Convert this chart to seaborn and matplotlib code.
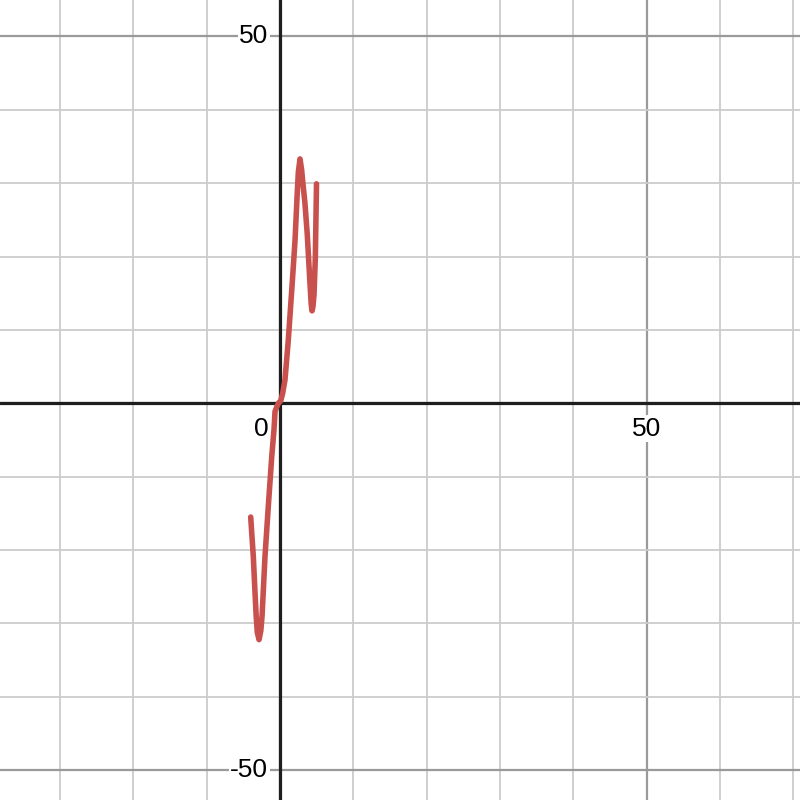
import matplotlib
matplotlib.use("Agg")
from matplotlib import pyplot as plt
from matplotlib.ticker import MultipleLocator
import seaborn as sns
import pandas as pd

# curve points (x increasing)
curve_x = [-4.00, -3.64, -3.40, -3.25, -3.10, -2.86, -2.62, -2.45, -2.30, -2.05,
           -1.60, -1.13, -0.82, -0.68, -0.40, -0.23, 0.10, 0.37, 0.68, 1.13,
           1.60, 2.05, 2.32, 2.50, 2.73, 2.95, 3.10, 3.40, 3.72, 4.05,
           4.25, 4.37, 4.50, 4.64, 4.82, 4.98]
curve_y = [-15.5, -20.9, -26.0, -29.0, -31.2, -32.2, -31.0, -29.0, -26.0, -20.9,
           -14.1, -7.3, -3.6, -1.1, -0.4, 0.0, 0.35, 1.4, 3.2, 8.6,
           15.4, 22.2, 28.0, 31.5, 33.3, 31.8, 30.2, 27.3, 23.0, 17.0,
           13.6, 12.6, 13.2, 14.8, 19.9, 29.9]

x_range = (-38.2, 70.94)
y_range = (-54.05, 54.95)
x_labels = [(0, "0"), (50, "50")]
y_labels = [(50, "50"), (-50, "-50")]

df = pd.DataFrame({"x": curve_x, "y": curve_y})

sns.set_style("white")
plt.rcParams["font.family"] = ["Liberation Sans", "DejaVu Sans"]

fig = plt.figure(figsize=(8, 8), dpi=100)
ax = fig.add_axes([0, 0, 1, 1])

ax.set_xlim(*x_range)
ax.set_ylim(*y_range)

# grid: light every 10, darker every 50
for axis in (ax.xaxis, ax.yaxis):
    axis.set_major_locator(MultipleLocator(50))
    axis.set_minor_locator(MultipleLocator(10))
ax.grid(which="minor", color="#cccccc", linewidth=1.3)
ax.grid(which="major", color="#9a9a9a", linewidth=1.6)
ax.tick_params(which="both", length=0, labelbottom=False, labelleft=False)
for s in ax.spines.values():
    s.set_visible(False)

ax.axhline(0, color="#1e1e1e", linewidth=2.3, zorder=2)
ax.axvline(0, color="#1e1e1e", linewidth=2.3, zorder=2)

box = dict(facecolor="white", edgecolor="none", pad=1.0)
for v, t in x_labels:
    if v == 0:
        ax.text(-1.5, -1.8, t, ha="right", va="top", fontsize=19,
                color="black", bbox=box, zorder=2.5)
    else:
        ax.text(v, -1.8, t, ha="center", va="top", fontsize=19,
                color="black", bbox=box, zorder=2.5)
for v, t in y_labels:
    ax.text(-1.6, v, t, ha="right", va="center", fontsize=19,
            color="black", bbox=box, zorder=2.5)

sns.lineplot(data=df, x="x", y="y", sort=False, estimator=None,
             color="#c8504d", linewidth=4.0, ax=ax, zorder=3,
             solid_joinstyle="round", solid_capstyle="round")
ax.set_xlabel("")
ax.set_ylabel("")

fig.savefig("out.png", dpi=100)
